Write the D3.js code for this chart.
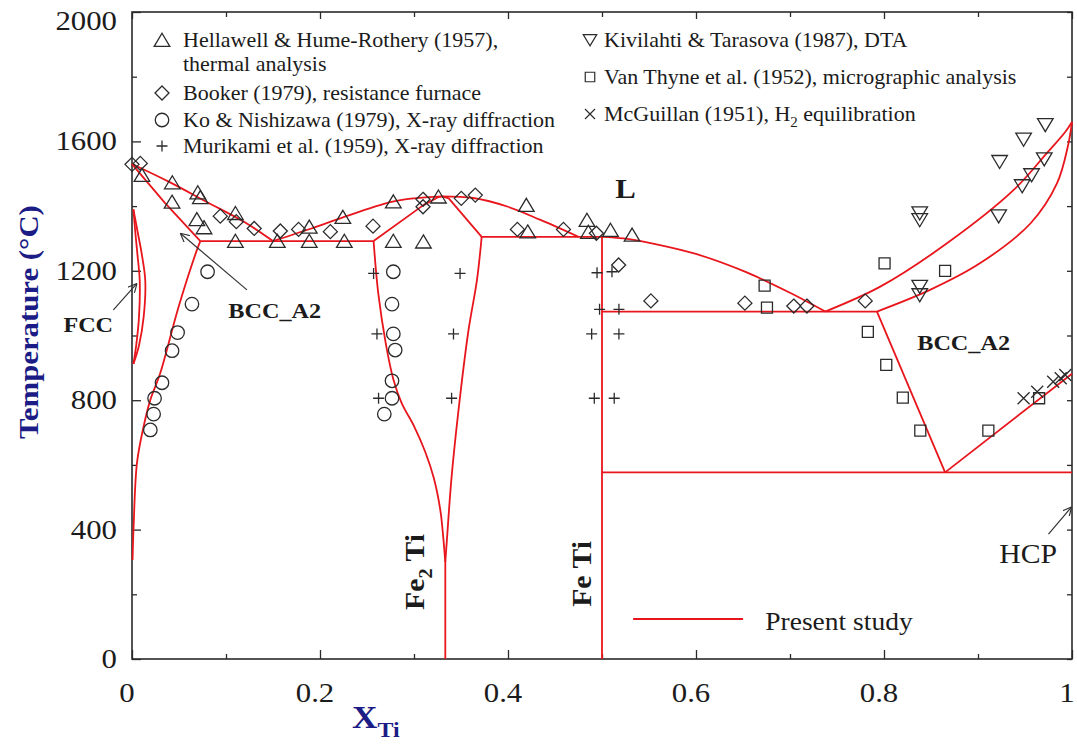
<!DOCTYPE html>
<html>
<head>
<meta charset="utf-8">
<script src="https://cdn.jsdelivr.net/npm/d3@7"></script>
<style>
  body { margin: 0; background: #fff; }
  svg { display: block; font-family: "Liberation Serif", "Times New Roman", serif; }
</style>
</head>
<body>
<svg id="chart" width="1077" height="747"></svg>
<script>
// ---------- axis ticks ----------
const xMajor = [0, 0.2, 0.4, 0.6, 0.8, 1];
const xMajorLabels = ["0", "0.2", "0.4", "0.6", "0.8", "1"];
const xMinor = [0.1, 0.3, 0.5, 0.7, 0.9];
const yMajor = [0, 400, 800, 1200, 1600, 2000];
const yMajorLabels = ["0", "400", "800", "1200", "1600", "2000"];
const yMinor = [200, 600, 1000, 1400, 1800];

// ---------- calculated phase boundaries (X_Ti, T in °C) ----------
const liquidusFe      = [[0, 1530], [0.04, 1474], [0.08, 1412], [0.12, 1350], [0.15, 1292]];
const solidusFe       = [[0, 1530], [0.035, 1410], [0.0727, 1292]];
const fccLoopOuter    = [[0.0015, 1390], [0.006, 1320], [0.0105, 1250], [0.0141, 1170], [0.0125, 1060], [0.0075, 970], [0.0015, 912]];
const fccLoopInner    = [[0.0015, 1390], [0.0035, 1320], [0.0058, 1250], [0.0082, 1170], [0.0075, 1060], [0.0045, 970], [0.0015, 912]];
const bccSolvusFe     = [[0.0727, 1292], [0.069, 1264], [0.0496, 1089], [0.0301, 884], [0.0195, 801], [0.0123, 718], [0.0053, 606], [0.0017, 409], [0.0006, 306]];
const eutecticFe      = [[0.0727, 1292], [0.257, 1292]];
const liquidusLavesL  = [[0.15, 1292], [0.19, 1330], [0.2216, 1362], [0.2748, 1412], [0.30, 1424], [0.33, 1430]];
const liquidusLavesR  = [[0.33, 1430], [0.363, 1425], [0.40, 1398], [0.434, 1358], [0.475, 1305]];
const solidusLavesL   = [[0.257, 1292], [0.31, 1403], [0.326, 1428], [0.33, 1430]];
const solidusLavesR   = [[0.33, 1430], [0.337, 1424], [0.372, 1305]];
const eutecticMid     = [[0.372, 1305], [0.5, 1305]];
const lavesLeft       = [[0.257, 1292], [0.262, 1130], [0.270, 975], [0.278, 865], [0.287, 790], [0.30, 720], [0.312, 640], [0.321, 560], [0.328, 460], [0.331, 380], [0.3333, 300]];
const lavesRight      = [[0.372, 1305], [0.367, 1172], [0.358, 1017], [0.349, 811], [0.340, 563], [0.335, 368], [0.3333, 300]];
const lavesLine       = [[0.3333, 300], [0.3333, 0]];
const feTiLine        = [[0.5, 1305], [0.5, 0]];
const liquidusFeTi    = [[0.5, 1305], [0.523, 1300], [0.558, 1282], [0.60, 1252], [0.654, 1195], [0.70, 1132], [0.7375, 1074]];
const eutecticTi      = [[0.5, 1074], [0.7925, 1074]];
const liquidusTi      = [[0.7375, 1074], [0.796, 1151], [0.867, 1285], [0.938, 1450], [0.973, 1563], [0.993, 1630], [1, 1660]];
const solidusTi       = [[0.7925, 1074], [0.849, 1141], [0.902, 1223], [0.956, 1347], [0.984, 1470], [0.996, 1590], [1, 1660]];
const bccSolvusTi     = [[0.7925, 1074], [0.865, 577]];
const eutectoid       = [[0.5, 577], [1, 577]];
const betaTransus     = [[0.865, 577], [1, 882]];

const curvedBoundaries = [liquidusFe, fccLoopOuter, fccLoopInner, bccSolvusFe, liquidusLavesL, liquidusLavesR,
                          lavesLeft, lavesRight, liquidusFeTi, liquidusTi, solidusTi];
const straightBoundaries = [solidusFe, eutecticFe, solidusLavesL, solidusLavesR, eutecticMid, lavesLine,
                            feTiLine, eutecticTi, bccSolvusTi, eutectoid, betaTransus];

// ---------- experimental data (X_Ti, T in °C) ----------
const hellawell = [[0.0106, 1496], [0.0429, 1473], [0.0426, 1413], [0.070, 1442], [0.0727, 1427], [0.069, 1359],
  [0.0766, 1334], [0.110, 1378], [0.110, 1292], [0.1546, 1292], [0.1886, 1336], [0.1886, 1292], [0.2243, 1366],
  [0.2259, 1292], [0.278, 1414], [0.278, 1292], [0.310, 1290], [0.326, 1429], [0.4195, 1403], [0.421, 1321],
  [0.484, 1357], [0.4855, 1320], [0.509, 1326], [0.532, 1311]];
const booker = [[0.0, 1529], [0.0088, 1532], [0.0939, 1369], [0.111, 1352], [0.130, 1331], [0.1578, 1323],
  [0.1772, 1328], [0.211, 1321], [0.2564, 1338], [0.3096, 1421], [0.3096, 1398], [0.3503, 1424], [0.3652, 1434],
  [0.410, 1328], [0.459, 1328], [0.494, 1316], [0.5177, 1218], [0.552, 1107], [0.652, 1100], [0.704, 1091],
  [0.718, 1091], [0.780, 1107]];
const koNishizawa = [[0.0804, 1197], [0.0638, 1097], [0.0485, 1009], [0.0426, 953], [0.0319, 854], [0.024, 806],
  [0.023, 757], [0.0195, 708], [0.278, 1197], [0.2766, 1097], [0.278, 1005], [0.280, 955], [0.2766, 860],
  [0.2766, 806], [0.2684, 757]];
const murikami = [[0.257, 1192], [0.349, 1192], [0.2606, 1005], [0.342, 1005], [0.2623, 806], [0.340, 806],
  [0.4947, 1194], [0.5106, 1197], [0.4974, 1081], [0.518, 1081], [0.489, 1005], [0.518, 1005], [0.4918, 806],
  [0.513, 806]];
const kivilahti = [[0.9716, 1651], [0.9485, 1606], [0.923, 1537], [0.9705, 1545], [0.957, 1496], [0.947, 1462],
  [0.922, 1369], [0.838, 1378], [0.838, 1357], [0.838, 1151], [0.838, 1125]];
const vanThyne = [[0.8006, 1223], [0.865, 1200], [0.673, 1154], [0.6755, 1086], [0.7828, 1011], [0.8024, 909],
  [0.820, 808], [0.8386, 706], [0.911, 706], [0.965, 806]];
const mcGuillan = [[0.9485, 806], [0.963, 826], [0.980, 857], [0.988, 868], [0.9929, 878]];

// ---------- legend ----------
const legendLeftLabels = [["Hellawell & Hume-Rothery (1957),", "thermal analysis"],
  ["Booker (1979), resistance furnace"], ["Ko & Nishizawa (1979), X-ray diffraction"],
  ["Murikami et al. (1959), X-ray diffraction"]];
const legendLeftShapes = ["triUp", "diamond", "circle", "plus"];
const legendLeftRows = [40, 93, 120, 146];
const legendRightLabels = ["Kivilahti & Tarasova (1987), DTA", "Van Thyne et al. (1952), micrographic analysis",
  "McGuillan (1951), H|2| equilibration"];
const legendRightShapes = ["triDown", "square", "times"];
const legendRightRows = [40, 77, 114];

// ---------- setup ----------
const svg = d3.select("#chart");
const frame = { left: 132, right: 1072, top: 12, bottom: 659 };
const x = d3.scaleLinear().domain([0, 1]).range([frame.left, frame.right]);
const y = d3.scaleLinear().domain([0, 2000]).range([frame.bottom, frame.top]);
const RED = "#e8161c";
const INK = "#1b1b1b";
const NAVY = "#1c1c86";
const STRETCH = 1.1; // serif type is set slightly wide

function label(g, px, py, str, opt = {}) {
  const t = g.append("text")
    .attr("transform", `translate(${px},${py}) rotate(${opt.rotate || 0}) scale(${STRETCH},1)`)
    .attr("text-anchor", opt.anchor || "start")
    .attr("font-size", opt.size || 20)
    .attr("font-weight", opt.weight || "normal")
    .attr("fill", opt.fill || INK);
  // segments between '|' are set as subscripts
  const parts = str.split("|");
  parts.forEach((p, i) => {
    if (!p) return;
    const ts = t.append("tspan").text(p);
    if (i % 2 === 1) ts.attr("font-size", (opt.size || 20) * 0.68).attr("dy", (opt.size || 20) * 0.28);
    else if (i > 0) ts.attr("dy", -(opt.size || 20) * 0.28);
  });
  return t;
}

const shapes = {
  triUp:   s => `M0,${-s * 0.45}L${s * 0.52},${s * 0.42}L${-s * 0.52},${s * 0.42}Z`,
  triDown: s => `M0,${s * 0.45}L${s * 0.52},${-s * 0.42}L${-s * 0.52},${-s * 0.42}Z`,
  diamond: s => `M0,${-s / 2}L${s / 2},0L0,${s / 2}L${-s / 2},0Z`,
  circle:  s => d3.arc()({ innerRadius: 0, outerRadius: s / 2, startAngle: 0, endAngle: 2 * Math.PI }) + "Z",
  plus:    s => `M${-s / 2},0H${s / 2}M0,${-s / 2}V${s / 2}`,
  square:  s => `M${-s / 2},${-s / 2}H${s / 2}V${s / 2}H${-s / 2}Z`,
  times:   s => `M${-s / 2},${-s / 2}L${s / 2},${s / 2}M${s / 2},${-s / 2}L${-s / 2},${s / 2}`
};
const plotSize = { triUp: 15, triDown: 15, diamond: 14, circle: 13.5, plus: 11, square: 11, times: 12 };
const legendSize = { triUp: 15, triDown: 13, diamond: 14, circle: 13.5, plus: 11, square: 9.5, times: 10 };

// ---------- frame & ticks ----------
function tickAxis(axis, values, size, transform) {
  const g = svg.append("g").attr("transform", transform)
    .call(axis.tickValues(values).tickSize(size).tickFormat(""));
  g.select(".domain").remove();
  g.selectAll("line").attr("stroke", "#2a2a2a").attr("stroke-width", 1.3);
  return g;
}
tickAxis(d3.axisBottom(x), xMajor, -9, `translate(0,${frame.bottom})`);
tickAxis(d3.axisBottom(x), xMinor, -5, `translate(0,${frame.bottom})`);
tickAxis(d3.axisTop(x), xMajor, -7, `translate(0,${frame.top})`);
tickAxis(d3.axisTop(x), xMinor, -5, `translate(0,${frame.top})`);
tickAxis(d3.axisLeft(y), yMajor, -9, `translate(${frame.left},0)`);
tickAxis(d3.axisLeft(y), yMinor, -5, `translate(${frame.left},0)`);
tickAxis(d3.axisRight(y), yMajor.concat(yMinor), -5, `translate(${frame.right},0)`);

svg.append("rect")
  .attr("x", frame.left).attr("y", frame.top)
  .attr("width", frame.right - frame.left).attr("height", frame.bottom - frame.top)
  .attr("fill", "none").attr("stroke", "#2a2a2a").attr("stroke-width", 1.6);

// tick labels (the top one is nudged down to stay inside the page)
const tl = svg.append("g");
xMajor.forEach((v, i) => label(tl, x(v) - 5, frame.bottom + 43, xMajorLabels[i], { size: 28, anchor: "middle" }));
yMajor.forEach((v, i) => label(tl, frame.left - 15, Math.max(y(v) + 9, 30), yMajorLabels[i], { size: 28, anchor: "end" }));

// axis titles
label(svg, 38, 322, "Temperature (°C)", { size: 28, weight: "bold", anchor: "middle", rotate: -90, fill: NAVY });
label(svg, 352, 728, "X|Ti|", { size: 32, weight: "bold", fill: NAVY });

// ---------- phase boundaries ----------
svg.append("clipPath").attr("id", "plotClip").append("rect")
  .attr("x", frame.left - 1).attr("y", frame.top).attr("width", frame.right - frame.left + 2)
  .attr("height", frame.bottom - frame.top);
const lines = svg.append("g").attr("clip-path", "url(#plotClip)")
  .attr("fill", "none").attr("stroke", RED).attr("stroke-width", 1.8).attr("stroke-linejoin", "round");
const curved = d3.line().x(d => x(d[0])).y(d => y(d[1])).curve(d3.curveCatmullRom.alpha(0.5));
const straight = d3.line().x(d => x(d[0])).y(d => y(d[1]));
lines.selectAll("path.c").data(curvedBoundaries).join("path").attr("class", "c").attr("d", curved);
lines.selectAll("path.s").data(straightBoundaries).join("path").attr("class", "s").attr("d", straight);

// ---------- experimental points ----------
const pts = svg.append("g").attr("fill", "none").attr("stroke", "#2b2b2b").attr("stroke-width", 1.3);
function plotSeries(data, shape) {
  pts.append("g").selectAll("path").data(data).join("path")
    .attr("transform", d => `translate(${x(d[0])},${y(d[1])})`)
    .attr("d", shapes[shape](plotSize[shape]));
}
plotSeries(hellawell, "triUp");
plotSeries(booker, "diamond");
plotSeries(koNishizawa, "circle");
plotSeries(murikami, "plus");
plotSeries(kivilahti, "triDown");
plotSeries(vanThyne, "square");
plotSeries(mcGuillan, "times");

// ---------- legend ----------
const lg = svg.append("g");
legendLeftLabels.forEach((rows, i) => {
  const yy = legendLeftRows[i];
  lg.append("path").attr("transform", `translate(162,${yy})`)
    .attr("d", shapes[legendLeftShapes[i]](legendSize[legendLeftShapes[i]]))
    .attr("fill", "none").attr("stroke", "#2b2b2b").attr("stroke-width", 1.3);
  rows.forEach((s, k) => label(lg, 183, yy + 7 + k * 24, s, { size: 20 }));
});
legendRightLabels.forEach((s, i) => {
  const yy = legendRightRows[i];
  lg.append("path").attr("transform", `translate(590,${yy})`)
    .attr("d", shapes[legendRightShapes[i]](legendSize[legendRightShapes[i]]))
    .attr("fill", "none").attr("stroke", "#2b2b2b").attr("stroke-width", 1.2);
  label(lg, 604, yy + 7, s, { size: 20 });
});

// "Present study" key
svg.append("line")
  .attr("x1", x(0.5331)).attr("x2", x(0.6501)).attr("y1", y(124)).attr("y2", y(124))
  .attr("stroke", RED).attr("stroke-width", 2);
label(svg, x(0.6737), y(90), "Present study", { size: 25 });

// ---------- phase labels ----------
const ann = svg.append("g");
label(ann, x(0.514), y(1425), "L", { size: 28, weight: "bold" });
label(ann, x(-0.073), y(1011), "FCC", { size: 22, weight: "bold" });
label(ann, x(0.1025), y(1054), "BCC_A2", { size: 22, weight: "bold" });
label(ann, x(0.8354), y(955), "BCC_A2", { size: 22, weight: "bold" });
label(ann, x(0.9227), y(297), "HCP", { size: 27 });
label(ann, x(0.311), y(269), "Fe|2| Ti", { size: 27, weight: "bold", anchor: "middle", rotate: -90 });
label(ann, x(0.4887), y(263), "Fe Ti", { size: 27, weight: "bold", anchor: "middle", rotate: -90 });

// pointer arrows
svg.append("defs").append("marker")
  .attr("id", "head").attr("viewBox", "0 0 10 10").attr("refX", 10).attr("refY", 5)
  .attr("markerWidth", 9).attr("markerHeight", 9).attr("markerUnits", "userSpaceOnUse").attr("orient", "auto")
  .append("path").attr("d", "M0,0L10,5L0,10").attr("fill", "none").attr("stroke", "#333").attr("stroke-width", 1.3);
const arrows = [
  [[-0.0198, 1079], [0.0053, 1161]],
  [[0.1223, 1141], [0.0514, 1316]],
  [[0.975, 386], [0.9995, 470]]
];
svg.append("g").selectAll("line").data(arrows).join("line")
  .attr("x1", d => x(d[0][0])).attr("y1", d => y(d[0][1]))
  .attr("x2", d => x(d[1][0])).attr("y2", d => y(d[1][1]))
  .attr("stroke", "#333").attr("stroke-width", 1.2).attr("marker-end", "url(#head)");
</script>
</body>
</html>
